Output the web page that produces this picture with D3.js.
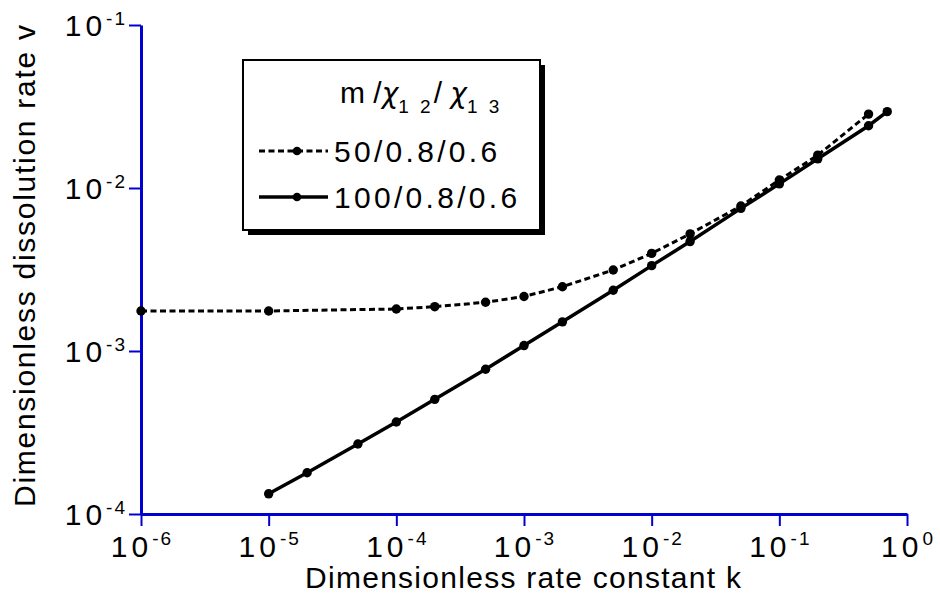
<!DOCTYPE html>
<html><head><meta charset="utf-8">
<script src="https://cdn.jsdelivr.net/npm/d3@7"></script>
<style>
body{margin:0;background:#fff;}
text{font-family:"Liberation Sans",Arial,sans-serif;fill:#000;}
</style></head>
<body><svg id="c" width="940" height="605"></svg>
<script>
// ---- data ----
const kDashed = [1e-6,1e-5,1e-4,2e-4,5e-4,1e-3,2e-3,5e-3,1e-2,2e-2,5e-2,0.1,0.2,0.5];
const vDashed = [1.76e-3,1.76e-3,1.81e-3,1.87e-3,1.99e-3,2.16e-3,2.48e-3,3.14e-3,3.97e-3,5.23e-3,7.76e-3,0.0112,0.0159,0.0284];
const kSolid = [1e-5,2e-5,5e-5,1e-4,2e-4,5e-4,1e-3,2e-3,5e-3,1e-2,2e-2,5e-2,0.1,0.2,0.5,0.7];
const vSolid = [1.33e-4,1.79e-4,2.69e-4,3.67e-4,5.05e-4,7.73e-4,1.08e-3,1.51e-3,2.36e-3,3.34e-3,4.69e-3,7.50e-3,0.0106,0.0151,0.0241,0.0294];
const seriesNames = ["50/0.8/0.6","100/0.8/0.6"];
const xTicks = [1e-6,1e-5,1e-4,1e-3,1e-2,1e-1,1];
const xTickExp = ["-6","-5","-4","-3","-2","-1","0"];
const yTicks = [1e-4,1e-3,1e-2,1e-1];
const yTickExp = ["-4","-3","-2","-1"];
const xTitle = "Dimensionless rate constant k";
const yTitle = "Dimensionless dissolution rate v";

const svg = d3.select("#c");
const axisColor = "#0000d0";
const x = d3.scaleLog().domain([1e-6,1]).range([141,907]);
const y = d3.scaleLog().domain([1e-4,1e-1]).range([514,25]);

// ---- axes ----
const gx = svg.append("g").attr("transform","translate(0,514)")
  .call(d3.axisBottom(x).tickValues(xTicks).tickSize(12).tickSizeOuter(0).tickFormat(""));
const gy = svg.append("g").attr("transform","translate(141,0)")
  .call(d3.axisLeft(y).tickValues(yTicks).tickSize(12).tickSizeOuter(0).tickFormat(""));
[gx,gy].forEach(g=>{
  g.select(".domain").attr("stroke",axisColor).attr("stroke-width",3);
  g.selectAll(".tick line").attr("stroke",axisColor).attr("stroke-width",2);
});

// x tick labels
xTicks.forEach((t,i)=>{
  const tx = svg.append("text").attr("x",x(t)+1).attr("y",557)
    .attr("text-anchor","middle").style("font-size","30px").style("letter-spacing","4px");
  tx.append("tspan").text("10");
  tx.append("tspan").attr("dy",-12).style("font-size","19px").style("letter-spacing","2px").text(xTickExp[i]);
});
// y tick labels
yTicks.forEach((t,i)=>{
  const ty = svg.append("text").attr("x",127).attr("y",y(t)+11)
    .attr("text-anchor","end").style("font-size","30px").style("letter-spacing","4px");
  ty.append("tspan").text("10");
  ty.append("tspan").attr("dy",-11).style("font-size","19px").style("letter-spacing","2px").text(yTickExp[i]);
});

// axis titles
svg.append("text").attr("x",305).attr("y",588).style("font-size","30px")
  .attr("textLength",436).attr("lengthAdjust","spacing").text(xTitle);
svg.append("text").attr("transform","translate(35,507) rotate(-90)").style("font-size","30px")
  .attr("textLength",482).attr("lengthAdjust","spacing").text(yTitle);

// ---- series ----
const line = d3.line().x(d=>x(d[0])).y(d=>y(d[1]));
const dData = kDashed.map((k,i)=>[k,vDashed[i]]);
const sData = kSolid.map((k,i)=>[k,vSolid[i]]);
svg.append("path").datum(dData).attr("d",line).attr("fill","none").attr("stroke","#000")
  .attr("stroke-width",3).attr("stroke-dasharray","6,3.5");
svg.append("path").datum(sData).attr("d",line).attr("fill","none").attr("stroke","#000")
  .attr("stroke-width",3.5);
svg.selectAll("circle.d").data(dData).enter().append("circle").attr("class","d")
  .attr("cx",d=>x(d[0])).attr("cy",d=>y(d[1])).attr("r",4.7).attr("fill","#000");
svg.selectAll("circle.s").data(sData).enter().append("circle").attr("class","s")
  .attr("cx",d=>x(d[0])).attr("cy",d=>y(d[1])).attr("r",4.7).attr("fill","#000");

// ---- legend ----
const lg = svg.append("g");
lg.append("rect").attr("x",248).attr("y",65).attr("width",297).attr("height",170).attr("fill","#000");
lg.append("rect").attr("x",243).attr("y",60).attr("width",297).attr("height",170)
  .attr("fill","#fff").attr("stroke","#000").attr("stroke-width",2);
const hdr = lg.append("text").attr("x",340).attr("y",103).style("font-size","30px");
hdr.append("tspan").text("m /");
hdr.append("tspan").style("font-family","'DejaVu Sans'").style("font-style","italic").style("font-size","28px").text("χ");
hdr.append("tspan").attr("dy",10).style("font-size","19px").style("letter-spacing","3px").text("1 2");
hdr.append("tspan").attr("dy",-10).text("/ ");
hdr.append("tspan").style("font-family","'DejaVu Sans'").style("font-style","italic").style("font-size","28px").text("χ");
hdr.append("tspan").attr("dy",10).style("font-size","19px").style("letter-spacing","3px").text("1 3");
const legY = [151,197];
seriesNames.forEach((n,i)=>{
  lg.append("line").attr("x1",259).attr("x2",328).attr("y1",legY[i]).attr("y2",legY[i])
    .attr("stroke","#000").attr("stroke-width",i===0?3:3.5).attr("stroke-dasharray",i===0?"6,3.5":null);
  lg.append("circle").attr("cx",297).attr("cy",legY[i]).attr("r",4.3).attr("fill","#000");
  lg.append("text").attr("x",334).attr("y",legY[i]+11).style("font-size","30px")
    .style("letter-spacing","3.3px").text(n);
});
</script></body></html>
